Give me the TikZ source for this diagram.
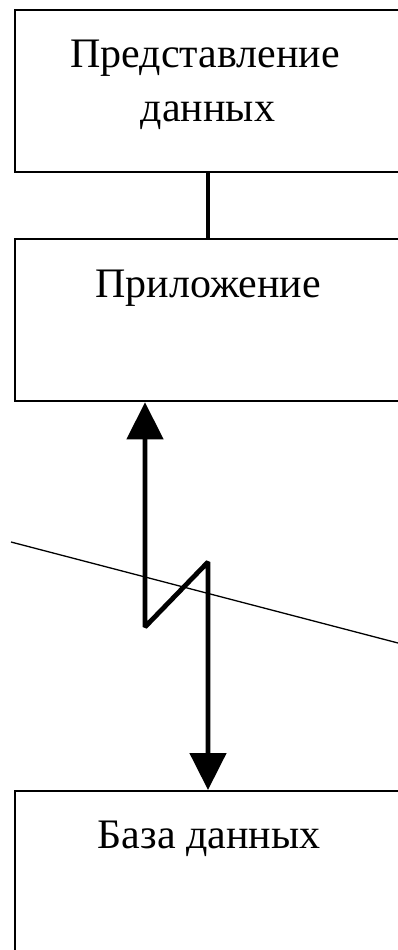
\documentclass[tikz,border=0pt]{standalone}
\usepackage{fontspec}
\setmainfont{Liberation Serif}
\usetikzlibrary{arrows.meta}
\begin{document}
\begin{tikzpicture}[x=1pt,y=-1pt,
  box/.style={draw,line width=2.3pt,rectangle,inner sep=0pt,anchor=north west},
  lbl/.style={font=\fontsize{42}{50}\selectfont,anchor=base,inner sep=0pt},
  conn/.style={line width=4.8pt}]
\useasboundingbox (0,0) rectangle (398,950);
\clip (0,0) rectangle (398,950);
\node[box,minimum width=390pt,minimum height=162pt] (b1) at (14,9) {};
\node[box,minimum width=390pt,minimum height=162pt] (b2) at (14,238) {};
\node[box,minimum width=390pt,minimum height=200pt] (b3) at (14,790) {};
\node[lbl] (t1) at (205,67) {Представление};
\node[lbl] (t1b) at (208,121) {данных};
\node[lbl] (t2) at (208,297) {Приложение};
\node[lbl] (t3) at (209,848) {База данных};
\draw[conn] (b1.south -| 208,0) -- (b2.north -| 208,0);
\coordinate (zl) at (145,627);
\coordinate (zr) at (208,562);
\draw[conn,line join=bevel,{Triangle[width=36pt,length=37pt]}-{Triangle[width=36pt,length=37pt]}]
  (b2.south -| zl) -- (zl) -- (zr) -- (b3.north -| zr);
\coordinate (dl) at (11,542);
\coordinate (dr) at (398,643);
\draw[line width=1.3pt] (dl) -- (dr);
\end{tikzpicture}
\end{document}
